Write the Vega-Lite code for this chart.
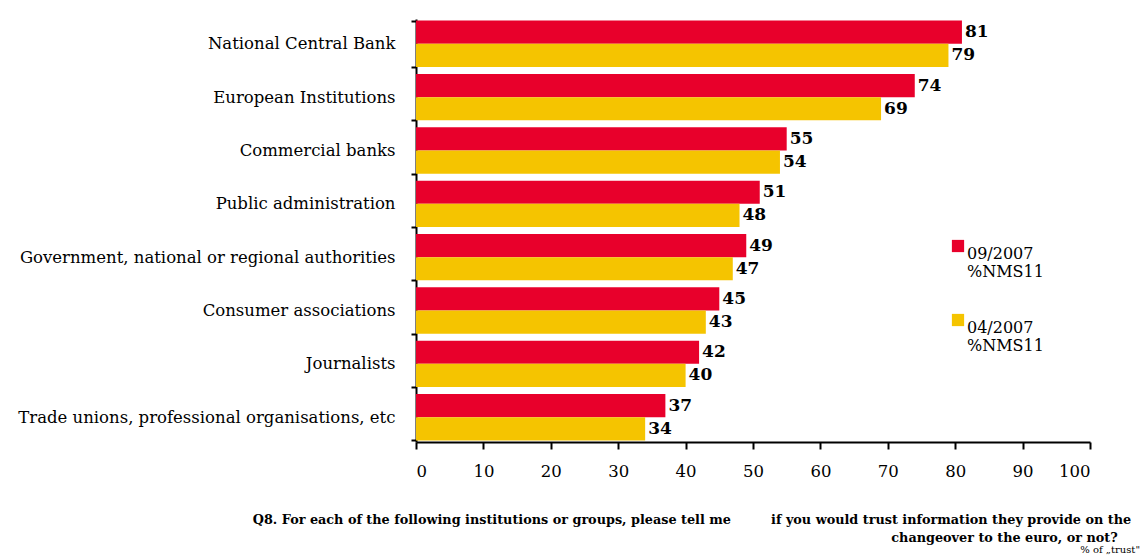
{
  "$schema": "https://vega.github.io/schema/vega-lite/v6.json",
  "width": 674,
  "height": 423,
  "autosize": {"type": "none"},
  "padding": {"left": 416, "top": 19, "right": 54, "bottom": 115},
  "background": "white",
  "config": {"view": {"stroke": null}, "font": "DejaVu Serif"},
  "data": {
    "values": [
      {"institution": "National Central Bank", "wave": "09/2007|%NMS11", "value": 81},
      {"institution": "National Central Bank", "wave": "04/2007|%NMS11", "value": 79},
      {"institution": "European Institutions", "wave": "09/2007|%NMS11", "value": 74},
      {"institution": "European Institutions", "wave": "04/2007|%NMS11", "value": 69},
      {"institution": "Commercial banks", "wave": "09/2007|%NMS11", "value": 55},
      {"institution": "Commercial banks", "wave": "04/2007|%NMS11", "value": 54},
      {"institution": "Public administration", "wave": "09/2007|%NMS11", "value": 51},
      {"institution": "Public administration", "wave": "04/2007|%NMS11", "value": 48},
      {"institution": "Government, national or regional authorities", "wave": "09/2007|%NMS11", "value": 49},
      {"institution": "Government, national or regional authorities", "wave": "04/2007|%NMS11", "value": 47},
      {"institution": "Consumer associations", "wave": "09/2007|%NMS11", "value": 45},
      {"institution": "Consumer associations", "wave": "04/2007|%NMS11", "value": 43},
      {"institution": "Journalists", "wave": "09/2007|%NMS11", "value": 42},
      {"institution": "Journalists", "wave": "04/2007|%NMS11", "value": 40},
      {"institution": "Trade unions, professional organisations, etc", "wave": "09/2007|%NMS11", "value": 37},
      {"institution": "Trade unions, professional organisations, etc", "wave": "04/2007|%NMS11", "value": 34}
    ]
  },
  "title": {
    "text": ["Q8.  For each of the following institutions or groups, please tell me \u00a0\u00a0\u00a0\u00a0\u00a0\u00a0\u00a0 if you would trust information they provide on the\u00a0\u00a0\u200b", "changeover to the euro, or not?\u00a0\u00a0\u00a0\u00a0\u00a0\u200b"],
    "subtitle": "% of \u201etrust\"",
    "orient": "bottom",
    "anchor": "end",
    "align": "right",
    "frame": "group",
    "dx": 50,
    "offset": 34,
    "font": "DejaVu Serif",
    "fontSize": 12.8,
    "fontWeight": "bold",
    "lineHeight": 18,
    "color": "black",
    "subtitleFont": "DejaVu Serif",
    "subtitleFontSize": 10,
    "subtitleColor": "black",
    "subtitlePadding": 1
  },
  "encoding": {
    "y": {
      "field": "institution",
      "type": "nominal",
      "sort": null,
      "scale": {"paddingInner": 0.13, "paddingOuter": 0.03},
      "axis": {
        "title": null,
        "domainColor": "black",
        "domainWidth": 2,
        "tickColor": "black",
        "tickWidth": 2,
        "tickSize": 5,
        "tickBand": "extent",
        "labelFontSize": 16.5,
        "labelColor": "black",
        "labelPadding": 16,
        "labelLimit": 450
      }
    },
    "yOffset": {"field": "wave", "type": "nominal", "sort": ["09/2007|%NMS11", "04/2007|%NMS11"]},
    "x": {
      "field": "value",
      "type": "quantitative",
      "scale": {"domain": [0, 100], "nice": false},
      "axis": {
        "title": null,
        "values": [0, 10, 20, 30, 40, 50, 60, 70, 80, 90, 100],
        "grid": false,
        "domainColor": "black",
        "domainWidth": 2,
        "tickColor": "black",
        "tickWidth": 2,
        "tickSize": 7,
        "labelFontSize": 16.5,
        "labelColor": "black",
        "labelPadding": 14
      }
    }
  },
  "layer": [
    {
      "mark": {"type": "bar"},
      "encoding": {
        "color": {
          "field": "wave",
          "type": "nominal",
          "scale": {"domain": ["09/2007|%NMS11", "04/2007|%NMS11"], "range": ["#e8002b", "#f5c400"]},
          "legend": {
            "title": null,
            "orient": "none",
            "legendX": 534,
            "legendY": 219,
            "symbolType": "square",
            "symbolSize": 150,
            "symbolStrokeWidth": 0,
            "symbolOpacity": 1,
            "labelExpr": "split(datum.label, '|')",
            "labelFontSize": 16,
            "labelColor": "black",
            "labelBaseline": "top",
            "labelOffset": 1,
            "rowPadding": 32
          }
        }
      }
    },
    {
      "mark": {"type": "text", "align": "left", "baseline": "middle", "dx": 3, "fontWeight": "bold", "fontSize": 17, "color": "black"},
      "encoding": {"text": {"field": "value", "type": "quantitative"}}
    }
  ]
}
